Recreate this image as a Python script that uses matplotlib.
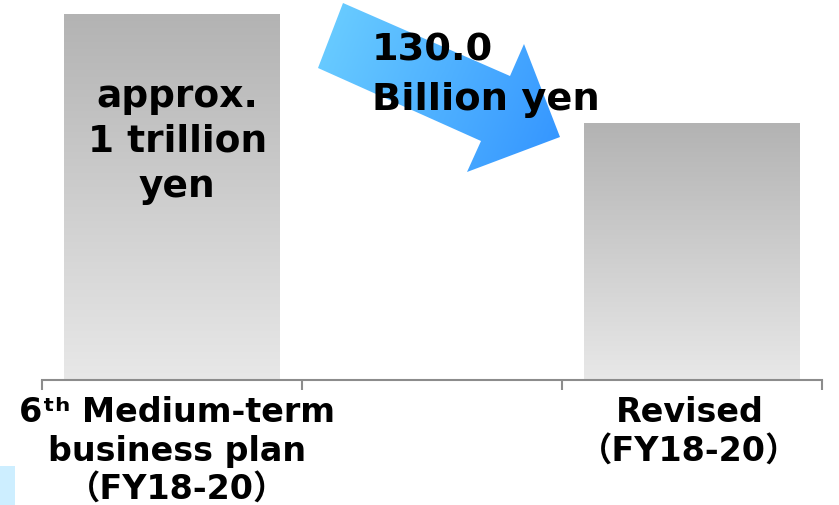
import numpy as np
import matplotlib
matplotlib.use("Agg")
import matplotlib.pyplot as plt
from matplotlib.colors import LinearSegmentedColormap
from matplotlib.patches import Polygon, Rectangle
from matplotlib.transforms import blended_transform_factory

# ---- data ----
categories = [["6ᵗʰ Medium-term", "business plan", "（FY18-20）"],
              [],
              ["Revised", "（FY18-20）"]]
values = [1000.0, np.nan, 870.0]          # 100 million yen units (approx. 1 trillion -> revised)
bar_label_lines = ["approx.", "1 trillion", "yen"]
change_label_lines = ["130.0", "Billion yen"]

FAM = ["DejaVu Sans", "Noto Sans CJK JP"]

W, H = 839, 506
fig = plt.figure(figsize=(W / 100, H / 100), dpi=100)
ax = fig.add_axes([42 / W, 125 / H, 780 / W, 381 / H])

x = np.arange(len(values))
bw = 0.83
ymin, ymax = 563.5, 1018.0

gray_cmap = LinearSegmentedColormap.from_list("g", ["#e8e8e8", "#b3b3b3"])
grad = np.linspace(0, 1, 256).reshape(-1, 1)
for xi, v in zip(x, values):
    if np.isnan(v):
        continue
    b = ax.bar(xi, v - ymin, bottom=ymin, width=bw, color="none",
               edgecolor="none")[0]
    im = ax.imshow(grad, extent=[xi - bw / 2, xi + bw / 2, ymin, v],
                   origin="lower", cmap=gray_cmap, aspect="auto", zorder=1)
    im.set_clip_path(b)

ax.set_xlim(-0.5, len(values) - 0.5)
ax.set_ylim(ymin, ymax)
for s in ["top", "left", "right"]:
    ax.spines[s].set_visible(False)
ax.spines["bottom"].set_color("#8c8c8c")
ax.spines["bottom"].set_linewidth(1.5)
ax.set_yticks([])
ax.set_xticks(x)
ax.set_xticklabels([""] * len(x))
ax.tick_params(axis="x", which="major", length=0)
ax.set_xticks(np.arange(-0.5, len(values), 1.0), minor=True)
ax.tick_params(axis="x", which="minor", length=7.5, width=1.5,
               color="#8c8c8c", direction="out")

# category labels (baseline positions in pixels from top)
tr = blended_transform_factory(ax.transData, ax.transAxes)
def ypix(Y):
    return (381 - Y) / 381

base_rows = [422, 461, 499]
label_dx = [0.02, 0.0, -0.01]
for xi, lines, dx in zip(x, categories, label_dx):
    for j, line in enumerate(lines):
        ax.text(xi + dx, ypix(base_rows[j]), line, transform=tr, ha="center",
                va="baseline", fontsize=24, fontweight="bold", family=FAM,
                color="#000000")

# text inside first bar
for j, line in enumerate(bar_label_lines):
    ax.text(x[0] + 0.02, ypix(107 + 45 * j), line, transform=tr, ha="center",
            va="baseline", fontsize=27, fontweight="bold", family=FAM,
            color="#000000", zorder=3)

# overlay in pixel coordinates for the arrow annotation
ov = fig.add_axes([0, 0, 1, 1], facecolor="none")
ov.set_xlim(0, W)
ov.set_ylim(H, 0)
ov.axis("off")

arrow_pts = [(343, 4), (510, 77), (524, 45), (560, 138), (467, 173),
             (481, 142), (318, 69)]
poly = Polygon(arrow_pts, closed=True, facecolor="none", edgecolor="none")
ov.add_patch(poly)
gx, gy = np.meshgrid(np.linspace(318, 560, 200), np.linspace(4, 173, 200))
d = np.array([167.0, 73.0]); d /= np.linalg.norm(d)
proj = (gx - 330) * d[0] + (gy - 36) * d[1]
proj = (proj - proj.min()) / (proj.max() - proj.min())
blue_cmap = LinearSegmentedColormap.from_list("b", ["#6ccfff", "#3394ff"])
im2 = ov.imshow(proj, extent=[318, 560, 173, 4], origin="upper",
                cmap=blue_cmap, aspect="auto", zorder=2)
im2.set_clip_path(poly)
ov.set_xlim(0, W)
ov.set_ylim(H, 0)

for j, line in enumerate(change_label_lines):
    ov.text(372, 60 + 50 * j, line, ha="left", va="baseline", fontsize=27.6,
            fontweight="bold", family=FAM, color="#000000", zorder=4)

ov.add_patch(Rectangle((0, 467), 15, 39, facecolor="#cdeeff",
                       edgecolor="none", zorder=1))

fig.savefig("out.png", dpi=100)
